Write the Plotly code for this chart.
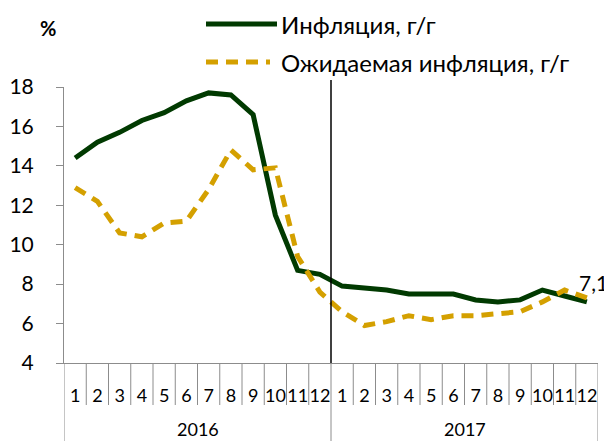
import plotly.graph_objects as go

months = [str(m) for m in range(1, 13)] * 2
years = ["2016", "2017"]
inflation = [14.4, 15.2, 15.7, 16.3, 16.7, 17.3, 17.7, 17.6, 16.6, 11.5, 8.7, 8.5,
             7.9, 7.8, 7.7, 7.5, 7.5, 7.5, 7.2, 7.1, 7.2, 7.7, 7.4, 7.1]
expected = [12.9, 12.2, 10.6, 10.4, 11.1, 11.2, 12.8, 14.8, 13.8, 13.9, 9.4, 7.6,
            6.6, 5.9, 6.1, 6.4, 6.2, 6.4, 6.4, 6.5, 6.6, 7.1, 7.7, 7.3]
series_names = ["Инфляция, г/г", "Ожидаемая инфляция, г/г"]
last_label = "7,1"

GREEN = "#013a01"
GOLD = "#d4a000"
FONT = "Lato"

OFF = 8  # page body margin
W, H = 612 - OFF, 441 - OFF
RL, RR, RT, RB = 64, 598, 87, 363
L, R, T, B = RL - OFF, RR - OFF, RT - OFF, RB - OFF
pw, ph = R - L, B - T

def px(xref):
    return (xref - RL) / pw

def py(yref):
    return (RB - yref) / ph

x = list(range(len(months)))

fig = go.Figure()
fig.add_trace(go.Scatter(x=x, y=inflation, mode="lines", name=series_names[0],
                         line=dict(color=GREEN, width=5), showlegend=False))
fig.add_trace(go.Scatter(x=x, y=expected, mode="lines", name=series_names[1],
                         line=dict(color=GOLD, width=5, dash="12px,8px"), showlegend=False))

shapes = []
for i in range(len(months) + 1):
    b = i - 0.5
    long = (i % 12 == 0)
    shapes.append(dict(type="line", xref="x", yref="paper", x0=b, x1=b,
                       y0=0, y1=py(441 if long else 405),
                       line=dict(color="#8c8c8c", width=1)))
shapes.append(dict(type="line", xref="x", yref="paper", x0=11.5, x1=11.5,
                   y0=0, y1=py(80), line=dict(color="black", width=1.5)))
shapes.append(dict(type="line", xref="paper", yref="paper", x0=px(206), x1=px(277),
                   y0=py(24), y1=py(24), line=dict(color=GREEN, width=5)))
shapes.append(dict(type="line", xref="paper", yref="paper", x0=px(206), x1=px(270),
                   y0=py(62), y1=py(62), line=dict(color=GOLD, width=5, dash="12px,8px")))

annotations = [
    dict(xref="paper", yref="paper", x=px(279), y=py(24), text=series_names[0],
         showarrow=False, xanchor="left", yanchor="middle",
         font=dict(family=FONT, size=24, color="black")),
    dict(xref="paper", yref="paper", x=px(279), y=py(62), text=series_names[1],
         showarrow=False, xanchor="left", yanchor="middle",
         font=dict(family=FONT, size=24, color="black")),
    dict(xref="paper", yref="paper", x=px(48), y=py(28), text="<b>%</b>",
         showarrow=False, xanchor="center", yanchor="middle",
         font=dict(family=FONT, size=20, color="black")),
    dict(xref="x", yref="y", x=x[-1], y=inflation[-1], text=last_label,
         showarrow=False, xanchor="center", yanchor="middle", xshift=7, yshift=19,
         font=dict(family=FONT, size=21, color="black")),
]
for k, yr in enumerate(years):
    annotations.append(dict(xref="x", yref="paper", x=k * 12 + 5.5, y=py(429), text=yr,
                            showarrow=False, xanchor="center", yanchor="middle",
                            font=dict(family=FONT, size=18, color="black")))

fig.update_layout(
    width=W, height=H, autosize=False,
    margin=dict(l=L, r=W - R, t=T, b=H - B, pad=0),
    paper_bgcolor="white", plot_bgcolor="white",
    shapes=shapes, annotations=annotations,
    xaxis=dict(range=[-0.5, 23.5], tickvals=x, ticktext=months, ticks="",
               tickangle=0, showgrid=False, zeroline=False, showline=True,
               linecolor="#8c8c8c", linewidth=1, ticklabelstandoff=16, automargin=False,
               tickfont=dict(family=FONT, size=18, color="black")),
    yaxis=dict(range=[4, 18], tickvals=list(range(4, 19, 2)), ticks="outside",
               ticklen=7, tickcolor="#8c8c8c", showgrid=False, zeroline=False,
               showline=True, linecolor="#8c8c8c", linewidth=1, ticklabelstandoff=18,
               automargin=False,
               tickfont=dict(family=FONT, size=21, color="black")),
)

fig.write_html("out.html")
